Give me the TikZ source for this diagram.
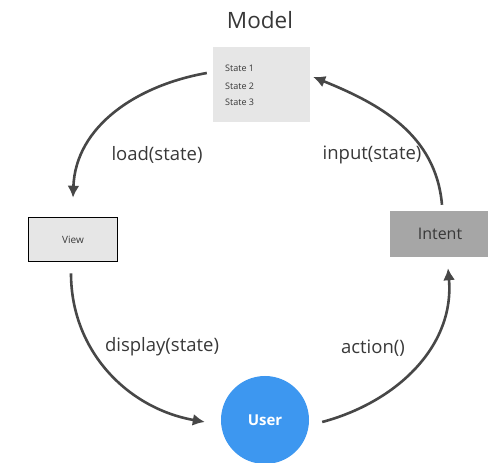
\documentclass[tikz,border=0pt]{standalone}
\usepackage{fontspec}
\setmainfont{Open Sans}
\usetikzlibrary{arrows.meta}
\definecolor{arrowgray}{HTML}{474747}
\definecolor{textgray}{HTML}{383838}
\definecolor{boxlight}{HTML}{E6E6E6}
\definecolor{boxdark}{HTML}{A6A6A6}
\definecolor{userblue}{HTML}{3D97F0}
\tikzset{
  flow/.style={draw=arrowgray, line width=2.6pt, -{Latex[length=12pt,width=12pt]}},
  lbl/.style={text=textgray, font=\fontsize{18.5}{20}\selectfont, inner sep=0pt},
  small/.style={text=textgray, font=\fontsize{9}{10}\selectfont, inner sep=0pt, anchor=west},
}
\begin{document}
\begin{tikzpicture}[x=1pt,y=1pt]
\useasboundingbox (0,0) rectangle (488,463);
\node[text=textgray, font=\fontsize{22.5}{26}\selectfont, inner sep=0pt] (title) at (260,443) {Model};
\node[fill=boxlight, minimum width=97pt, minimum height=75pt, inner sep=0pt] (model) at (261.5,378.5) {};
\node[small] (s1) at (225,395) {State 1};
\node[small] (s2) at (225,377) {State 2};
\node[small] (s3) at (225,361) {State 3};
\node[fill=boxlight, draw=black, line width=1.6pt, minimum width=89pt, minimum height=44pt, inner sep=0pt, text=textgray, font=\fontsize{10}{12}\selectfont] (view) at (73,223.5) {View};
\node[fill=boxdark, minimum width=100pt, minimum height=46pt, inner sep=0pt, text=textgray, font=\fontsize{16}{18}\selectfont] (intent) at (440,229) {Intent};
\node[circle, fill=userblue, minimum size=88pt, inner sep=0pt, text=white, font=\bfseries\fontsize{15}{17}\selectfont] (user) at (265,43) {User};
\draw[flow] ([shift={(-6,11.5)}]model.west) to[out=190,in=88] ([shift={(0,19)}]view.north);
\draw[flow] ([shift={(2,6)}]intent.north) to[out=95,in=-22] ([shift={(3,7.5)}]model.east);
\draw[flow] ([shift={(-2,-11)}]view.south) to[out=-90,in=170] ([shift={(-16,-2)}]user.west);
\draw[flow] ([shift={(13,-2)}]user.east) to[out=15,in=-85] ([shift={(8,-11)}]intent.south);
\node[lbl] (l1) at (157,308) {load(state)};
\node[lbl] (l2) at (372,308) {input(state)};
\node[lbl] (l3) at (162,116) {display(state)};
\node[lbl] (l4) at (373,115) {action()};
\end{tikzpicture}
\end{document}
